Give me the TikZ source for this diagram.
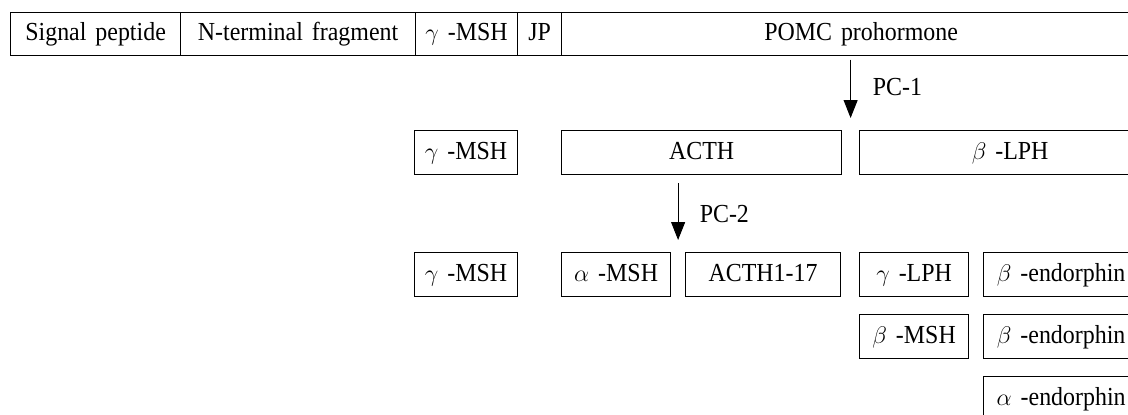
\documentclass[tikz,border=0pt]{standalone}
\usepackage{fontspec}
\setmainfont{Liberation Serif}[WordSpace=1.5, FakeStretch=0.92]
\usetikzlibrary{arrows.meta,calc}

\begin{document}
\begin{tikzpicture}[x=0.5pt,y=-0.5pt,
        box/.style={draw, line width=0.6pt, inner sep=0pt, minimum height=22pt, text height=0.9em, text depth=0.24em, anchor=north west},
        arr/.style={line width=0.5pt, -{Triangle[length=9pt,width=7pt]}},
        every node/.style={font=\fontsize{13}{15}\selectfont}]
        \useasboundingbox (0,0) rectangle (1128,414);
        \clip (0,0) rectangle (1128,414);

        % POMC prohormone bar
        \node[box, minimum width=85pt, minimum height=21.5pt] (sig) at (10,12) {Signal peptide};
        \node[box, minimum width=117.5pt, minimum height=21.5pt] (nterm) at (180,12) {N-terminal fragment};
        \node[box, minimum width=51pt, minimum height=21.5pt] (gmsh) at (415,12) {$\gamma$ -MSH};
        \node[box, minimum width=22pt, minimum height=21.5pt] (jp) at (517,12) {JP};
        \node[box, minimum width=299.5pt, minimum height=21.5pt] (pomc) at (561,12) {POMC prohormone};

        % after PC-1
        \node[box, minimum width=51.5pt] (gmshB) at (414,130) {$\gamma$ -MSH};
        \node[box, minimum width=140pt] (acth) at (561,130) {ACTH};
        \node[box, minimum width=150.5pt] (blph) at (859,130) {$\beta$ -LPH};

        % after PC-2
        \node[box, minimum width=51.5pt] (gmshC) at (414,252) {$\gamma$ -MSH};
        \node[box, minimum width=54.5pt] (amsh) at (561,252) {$\alpha$ -MSH};
        \node[box, minimum width=77.5pt] (acthf) at (685,252) {ACTH1-17};
        \node[box, minimum width=54.5pt] (glph) at (859,252) {$\gamma$ -LPH};
        \node[box, minimum width=77.5pt] (bendA) at (983,252) {$\beta$ -endorphin};
        \node[box, minimum width=54.5pt] (bmsh) at (859,314) {$\beta$ -MSH};
        \node[box, minimum width=77.5pt] (bendB) at (983,314) {$\beta$ -endorphin};
        \node[box, minimum width=77.5pt] (aend) at (983,376) {$\alpha$ -endorphin};

        % cleavage arrows
        \coordinate (gap1) at ($(acth.north east)!.5!(blph.north west)$);
        \coordinate (gap2) at ($(amsh.north east)!.5!(acthf.north west)$);
        \draw[arr, shorten <=1.75pt, shorten >=6pt] (pomc.south -| gap1) -- (gap1) node[pos=0.42, right=7.5pt] {PC-1};
        \draw[arr, shorten <=4pt, shorten >=6pt] (acth.south -| gap2) -- (gap2) node[midway, right=7.25pt] {PC-2};
    \end{tikzpicture}
\end{document}
